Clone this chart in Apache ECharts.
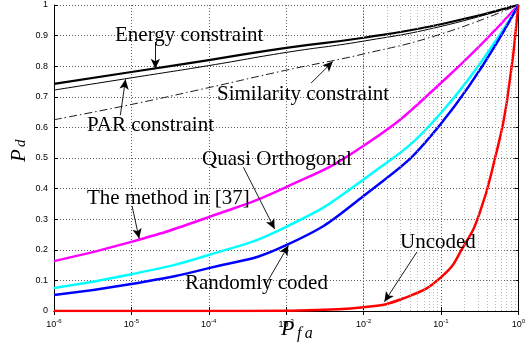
<!DOCTYPE html>
<html>
<head>
<meta charset="utf-8">
<script src="https://cdn.jsdelivr.net/npm/echarts@6/dist/echarts.min.js"></script>
<style>
  html, body { margin: 0; padding: 0; background: #fff; }
  #chart { width: 528px; height: 349px; }
</style>
</head>
<body>
<div id="chart"></div>
<script>
// P_fa points (decades) and P_d for each curve
var pfa = [1e-6, 1e-5, 1e-4, 1e-3, 1e-2, 1e-1, 1];
var energy     = [0.742, 0.781, 0.82, 0.86, 0.893, 0.937, 1.0];
var par        = [0.722, 0.762, 0.802, 0.845, 0.882, 0.93, 1.0];
var similarity = [0.625, 0.675, 0.73, 0.787, 0.84, 0.905, 1.0];
var method37   = [0.163, 0.226, 0.307, 0.405, 0.54, 0.745, 1.0];
var quasi      = [0.075, 0.12, 0.183, 0.275, 0.43, 0.647, 1.0];
var randomly   = [0.052, 0.088, 0.14, 0.215, 0.376, 0.612, 1.0];

var pfaUncoded = [1e-6, 1e-4, 1e-3, 0.00316, 0.01, 0.0316, 0.1, 0.2, 0.316, 0.5, 0.708, 1];
var uncoded    = [0, 0, 0.001, 0.004, 0.012, 0.04, 0.11, 0.215, 0.32, 0.5, 0.68, 1.0];

// labels with arrows: text box (pixels) and arrow from -> to (data coords)
var notes = [
    {text: 'Energy constraint',     x: 115, y: 35,  from: [2.04e-5, 0.879], to: [2.04e-5, 0.792]},
    {text: 'PAR constraint',        x: 87,  y: 125, from: [7.2e-6, 0.64],   to: [8.4e-6, 0.757]},
    {text: 'Similarity constraint', x: 217, y: 94,  from: [2.1e-3, 0.745],  to: [4.0e-3, 0.815]},
    {text: 'Quasi Orthogonal',      x: 202, y: 159, from: [2.8e-4, 0.47],   to: [7.1e-4, 0.268]},
    {text: 'The method in [37]',    x: 87,  y: 198, from: [1.02e-5, 0.343], to: [1.26e-5, 0.237]},
    {text: 'Randomly coded',        x: 185, y: 283, from: [5.4e-4, 0.085],  to: [1.07e-3, 0.214]},
    {text: 'Uncoded',               x: 400, y: 242, from: [0.049, 0.193],   to: [0.0186, 0.03]}
];

function pairs(xs, ys) {
    return xs.map(function (x, i) { return [x, ys[i]]; });
}

var minorLines = [];
for (var e = -6; e < 0; e++) {
    for (var k = 2; k <= 9; k++) {
        minorLines.push({xAxis: k * Math.pow(10, e)});
    }
}

var serif = 'Liberation Serif';

function curve(name, data, color, width, type) {
    return {
        name: name,
        type: 'line',
        data: data,
        showSymbol: false,
        symbol: 'none',
        smooth: 0.5,
        lineStyle: {color: color, width: width, type: type || 'solid'},
        z: 3
    };
}

var chart = echarts.init(document.getElementById('chart'));

var graphics = notes.map(function (n) {
    return {
        type: 'text', x: n.x, y: n.y, z: 10,
        style: {text: n.text, fontFamily: serif, fontSize: 21, fill: '#000', verticalAlign: 'middle'}
    };
});
graphics.push(
    {type: 'text', x: 9, y: 162, rotation: Math.PI / 2,
        style: {text: 'P', fontFamily: serif, fontStyle: 'italic', fontSize: 21, fill: '#000'}},
    {type: 'text', x: 14, y: 147, rotation: Math.PI / 2,
        style: {text: 'd', fontFamily: serif, fontStyle: 'italic', fontSize: 15, fill: '#000'}},
    {type: 'text', x: 281, y: 318,
        style: {text: 'P', fontFamily: serif, fontStyle: 'italic', fontSize: 22, fill: '#000'}},
    {type: 'text', x: 297, y: 326,
        style: {text: 'f\u2009a', fontFamily: serif, fontStyle: 'italic', fontSize: 16, fill: '#000'}}
);

chart.setOption({
    animation: false,
    grid: {left: 54, right: 5, top: 5, bottom: 38, containLabel: false},
    xAxis: [{
        type: 'log', logBase: 10, min: 1e-6, max: 1, splitNumber: 6,
        axisLine: {lineStyle: {color: '#000', width: 1}},
        axisTick: {inside: true, length: 4, lineStyle: {color: '#000'}},
        axisLabel: {
            margin: 7, color: '#000', fontFamily: 'Liberation Sans', fontSize: 9,
            formatter: function (v) {
                return '10{s|' + Math.round(Math.log10(v)) + '}';
            },
            rich: {s: {fontSize: 6, fontFamily: 'Liberation Sans', color: '#000', padding: [0, 0, 7, 0]}}
        },
        splitLine: {show: true, lineStyle: {color: '#333', width: 0.8, type: [1, 2]}}
    }, {
        type: 'log', logBase: 10, min: 1e-6, max: 1, splitNumber: 6, position: 'top',
        axisLine: {lineStyle: {color: '#000', width: 1}},
        axisTick: {inside: true, length: 4, lineStyle: {color: '#000'}},
        axisLabel: {show: false},
        splitLine: {show: false}
    }],
    yAxis: [{
        type: 'value', min: 0, max: 1, interval: 0.1,
        axisLine: {show: true, lineStyle: {color: '#000', width: 1}},
        axisTick: {show: true, inside: true, length: 4, lineStyle: {color: '#000'}},
        axisLabel: {margin: 6, color: '#000', fontFamily: 'Liberation Sans', fontSize: 9},
        splitLine: {show: true, lineStyle: {color: '#333', width: 0.8, type: [1, 2]}}
    }, {
        type: 'value', min: 0, max: 1, interval: 0.1, position: 'right',
        axisLine: {show: true, lineStyle: {color: '#000', width: 1}},
        axisTick: {show: true, inside: true, length: 4, lineStyle: {color: '#000'}},
        axisLabel: {show: false},
        splitLine: {show: false}
    }],
    graphic: graphics,
    series: [
        {
            type: 'line', data: [], silent: true,
            markLine: {
                silent: true, symbol: 'none', label: {show: false},
                lineStyle: {color: '#aaa', width: 0.8, type: [1, 2]},
                data: minorLines
            }
        },
        curve('Energy constraint', pairs(pfa, energy), '#000', 2.2),
        curve('PAR constraint', pairs(pfa, par), '#000', 1),
        curve('Similarity constraint', pairs(pfa, similarity), '#000', 0.9, [8, 3, 1.5, 3]),
        curve('The method in [37]', pairs(pfa, method37), '#ff00ff', 2.5),
        curve('Quasi Orthogonal', pairs(pfa, quasi), '#00ffff', 2.5),
        curve('Randomly coded', pairs(pfa, randomly), '#0000ff', 2.5),
        curve('Uncoded', pairs(pfaUncoded, uncoded), '#ff0000', 2.5),
        {
            type: 'line', data: [], silent: true, z: 5,
            markLine: {
                silent: true, symbol: ['none', 'arrow'], symbolSize: [7, 10],
                label: {show: false},
                lineStyle: {color: '#000', width: 0.9, type: 'solid'},
                data: notes.map(function (n) {
                    return [{coord: n.from}, {coord: n.to}];
                })
            }
        }
    ]
});
</script>
</body>
</html>
